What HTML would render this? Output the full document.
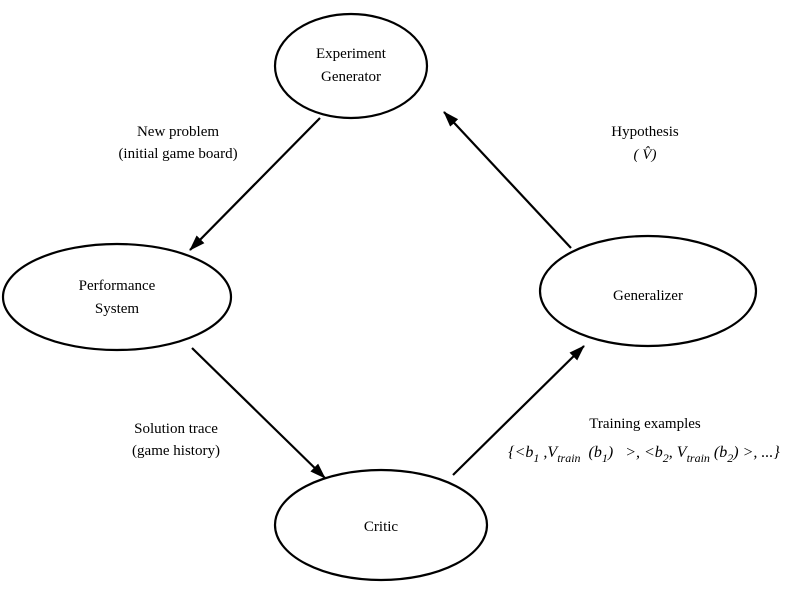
<!DOCTYPE html>
<html><head><style>body{margin:0;background:#fff}</style></head><body>
<svg width="806" height="592" xmlns="http://www.w3.org/2000/svg" font-family="Liberation Serif, serif" font-size="15">
<defs><marker id="a" markerWidth="16" markerHeight="11" refX="15" refY="5.5" orient="auto" markerUnits="userSpaceOnUse"><path d="M0,0 L16,5.5 L0,11 z" fill="#000"/></marker></defs>
<g fill="none" stroke="#000" stroke-width="2.2">
<ellipse cx="351" cy="66" rx="76" ry="52"/>
<ellipse cx="117" cy="297" rx="114" ry="53"/>
<ellipse cx="648" cy="291" rx="108" ry="55"/>
<ellipse cx="381" cy="525" rx="106" ry="55"/>
<line x1="320" y1="118" x2="190" y2="250" marker-end="url(#a)"/>
<line x1="192" y1="348" x2="325" y2="478" marker-end="url(#a)"/>
<line x1="453" y1="475" x2="584" y2="346" marker-end="url(#a)"/>
<line x1="571" y1="248" x2="444" y2="112" marker-end="url(#a)"/>
</g>
<g text-anchor="middle">
<text x="351" y="58">Experiment</text><text x="351" y="81">Generator</text>
<text x="117" y="290">Performance</text><text x="117" y="313">System</text>
<text x="648" y="300">Generalizer</text>
<text x="381" y="531">Critic</text>
<text x="178" y="136">New problem</text><text x="178" y="158">(initial game board)</text>
<text x="645" y="136">Hypothesis</text><text x="645" y="159" font-style="italic">( V̂)</text>
<text x="176" y="433">Solution trace</text><text x="176" y="455">(game history)</text>
<text x="645" y="428">Training examples</text>
<text x="644" y="457" font-style="italic" font-size="16" xml:space="preserve">{&lt;b<tspan font-size="12" dy="5">1</tspan><tspan dy="-5"> ,V</tspan><tspan font-size="12" dy="5">train</tspan><tspan dy="-5">  (b</tspan><tspan font-size="12" dy="5">1</tspan><tspan dy="-5">)   &gt;, &lt;b</tspan><tspan font-size="12" dy="5">2</tspan><tspan dy="-5">, V</tspan><tspan font-size="12" dy="5">train</tspan><tspan dy="-5"> (b</tspan><tspan font-size="12" dy="5">2</tspan><tspan dy="-5">) &gt;, ...}</tspan></text>
</g>
</svg>
</body></html>
